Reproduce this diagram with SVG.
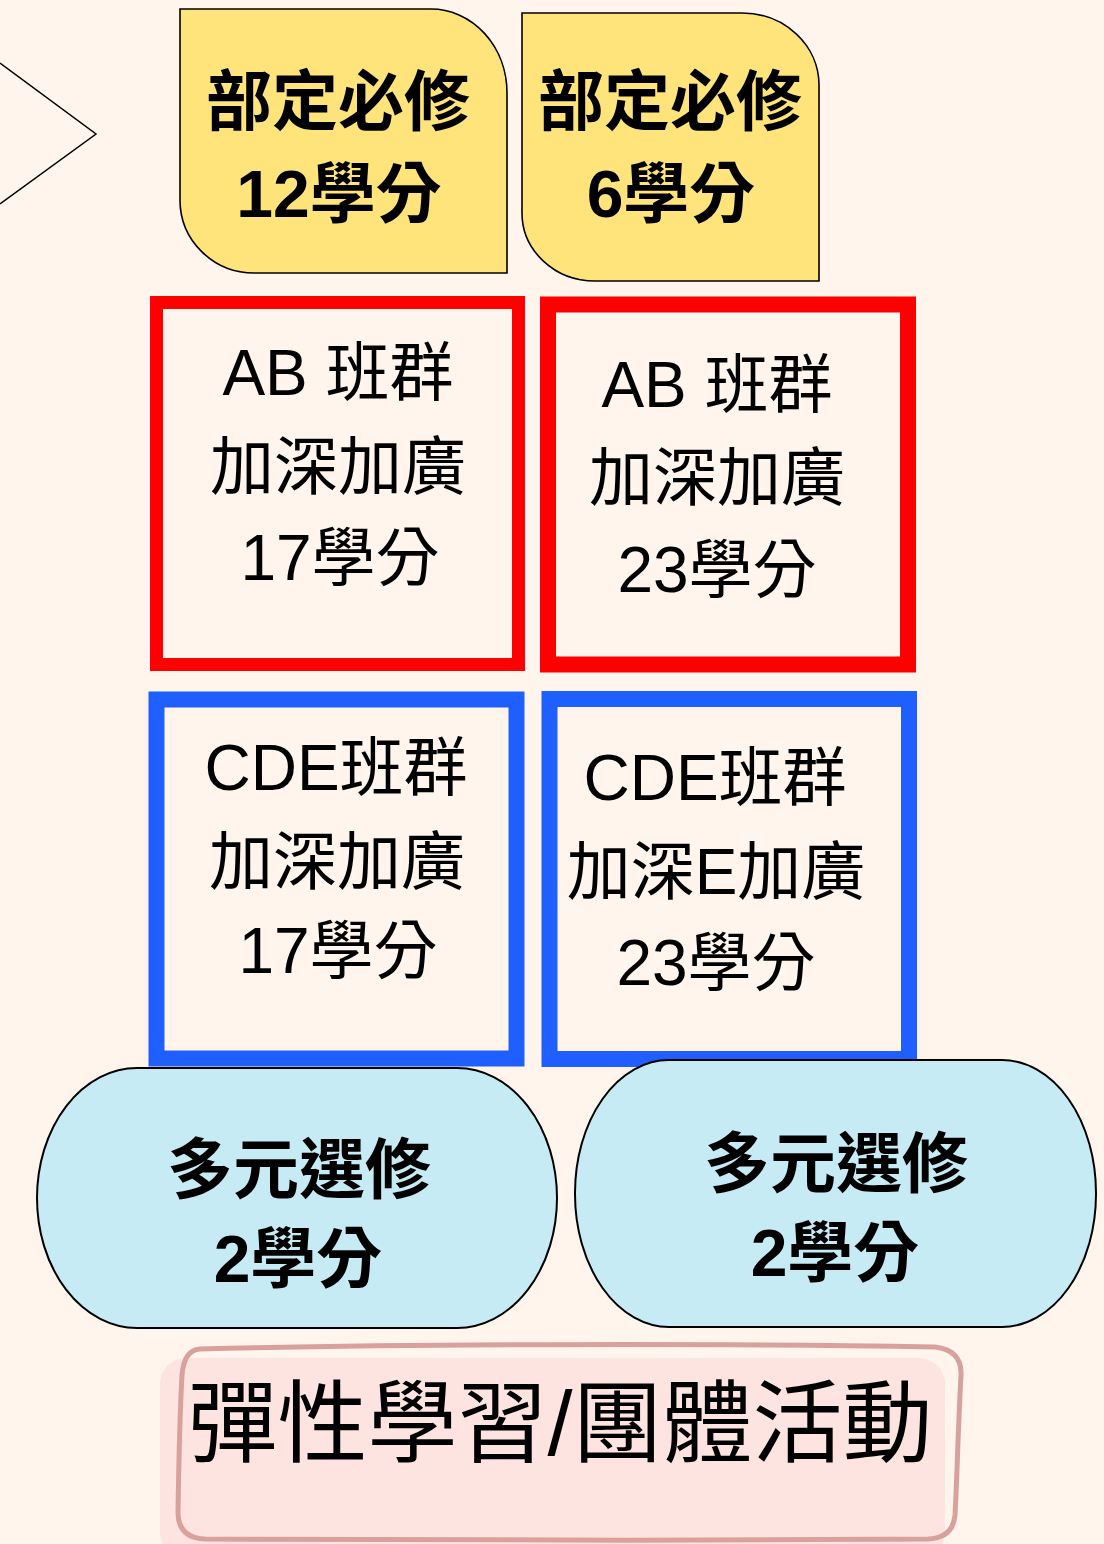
<svg xmlns="http://www.w3.org/2000/svg" width="1104" height="1544" viewBox="0 0 1104 1544">
<style>
.t{font-family:"Liberation Sans","Noto Sans CJK TC",sans-serif;text-anchor:middle;fill:#000}
.b{font-weight:bold;font-size:66px}
.r{font-size:64px}
.yel{fill:#fee47a;stroke:#000;stroke-width:1.6}
.red{fill:none;stroke:#ff0000}
.blue{fill:none;stroke:#1f5fff;stroke-width:16}
.pill{fill:#c6ebf5;stroke:#000;stroke-width:2}
</style>
<rect width="1104" height="1544" fill="#fff5ed"/>
<g id="connectors">
<polyline points="0,63 96,134 0,204" fill="none" stroke="#000" stroke-width="1.5"/>
</g>
<g id="req12">
<path class="yel" d="M180,9 H431 A76,84 0 0 1 507,93 V273 H254 A74,73 0 0 1 180,200 Z"/>
<text class="t b" x="338" y="125">部定必修</text>
<text class="t b" x="339" y="217">12學分</text>
</g>
<g id="req6">
<path class="yel" d="M522,13 H742 A77,72 0 0 1 819,85 V281 H595 A73,68 0 0 1 522,213 Z"/>
<text class="t b" x="670" y="125">部定必修</text>
<text class="t b" x="671" y="217">6學分</text>
</g>
<g id="ab17">
<rect class="red" x="156.5" y="302.5" width="362" height="362" stroke-width="13"/>
<text class="t r" x="338" y="395">AB 班群</text>
<text class="t r" x="338" y="489">加深加廣</text>
<text class="t r" x="340" y="580">17學分</text>
</g>
<g id="ab23">
<rect class="red" x="548" y="304.5" width="360" height="360" stroke-width="16"/>
<text class="t r" x="717" y="407">AB 班群</text>
<text class="t r" x="717" y="500">加深加廣</text>
<text class="t r" x="717" y="592">23學分</text>
</g>
<g id="cde17">
<rect class="blue" x="156.5" y="699.5" width="360" height="359"/>
<text class="t r" x="336" y="790">CDE班群</text>
<text class="t r" x="337" y="884">加深加廣</text>
<text class="t r" x="338" y="973">17學分</text>
</g>
<g id="cde23">
<rect class="blue" x="549.5" y="699" width="359.5" height="360"/>
<text class="t r" x="715" y="800">CDE班群</text>
<text class="t r" x="716" y="894">加深E加廣</text>
<text class="t r" x="716" y="985">23學分</text>
</g>
<g id="elective1">
<rect class="pill" x="37" y="1068" width="520" height="260" rx="100" ry="130"/>
<text class="t b" x="299" y="1193">多元選修</text>
<text class="t b" x="298" y="1282">2學分</text>
</g>
<g id="elective2">
<rect class="pill" x="575" y="1060" width="521" height="267" rx="94" ry="133"/>
<text class="t b" x="836" y="1187">多元選修</text>
<text class="t b" x="835" y="1276">2學分</text>
</g>
<g id="flex">
<rect x="160" y="1358" width="785" height="200" rx="26" fill="#fee4e0"/>
<path d="M200,1349 C400,1344 700,1343 935,1347 Q962,1350 961,1375 C958,1430 957,1480 955,1515 Q953,1538 928,1539 C700,1541 400,1540 205,1539 Q178,1538 178,1512 C179,1450 180,1410 182,1375 Q184,1350 200,1349 Z" fill="none" stroke="#d9a19c" stroke-width="5"/>
<text class="t" x="560" y="1455" font-size="90">彈性學習/團體活動</text>
</g>
</svg>
